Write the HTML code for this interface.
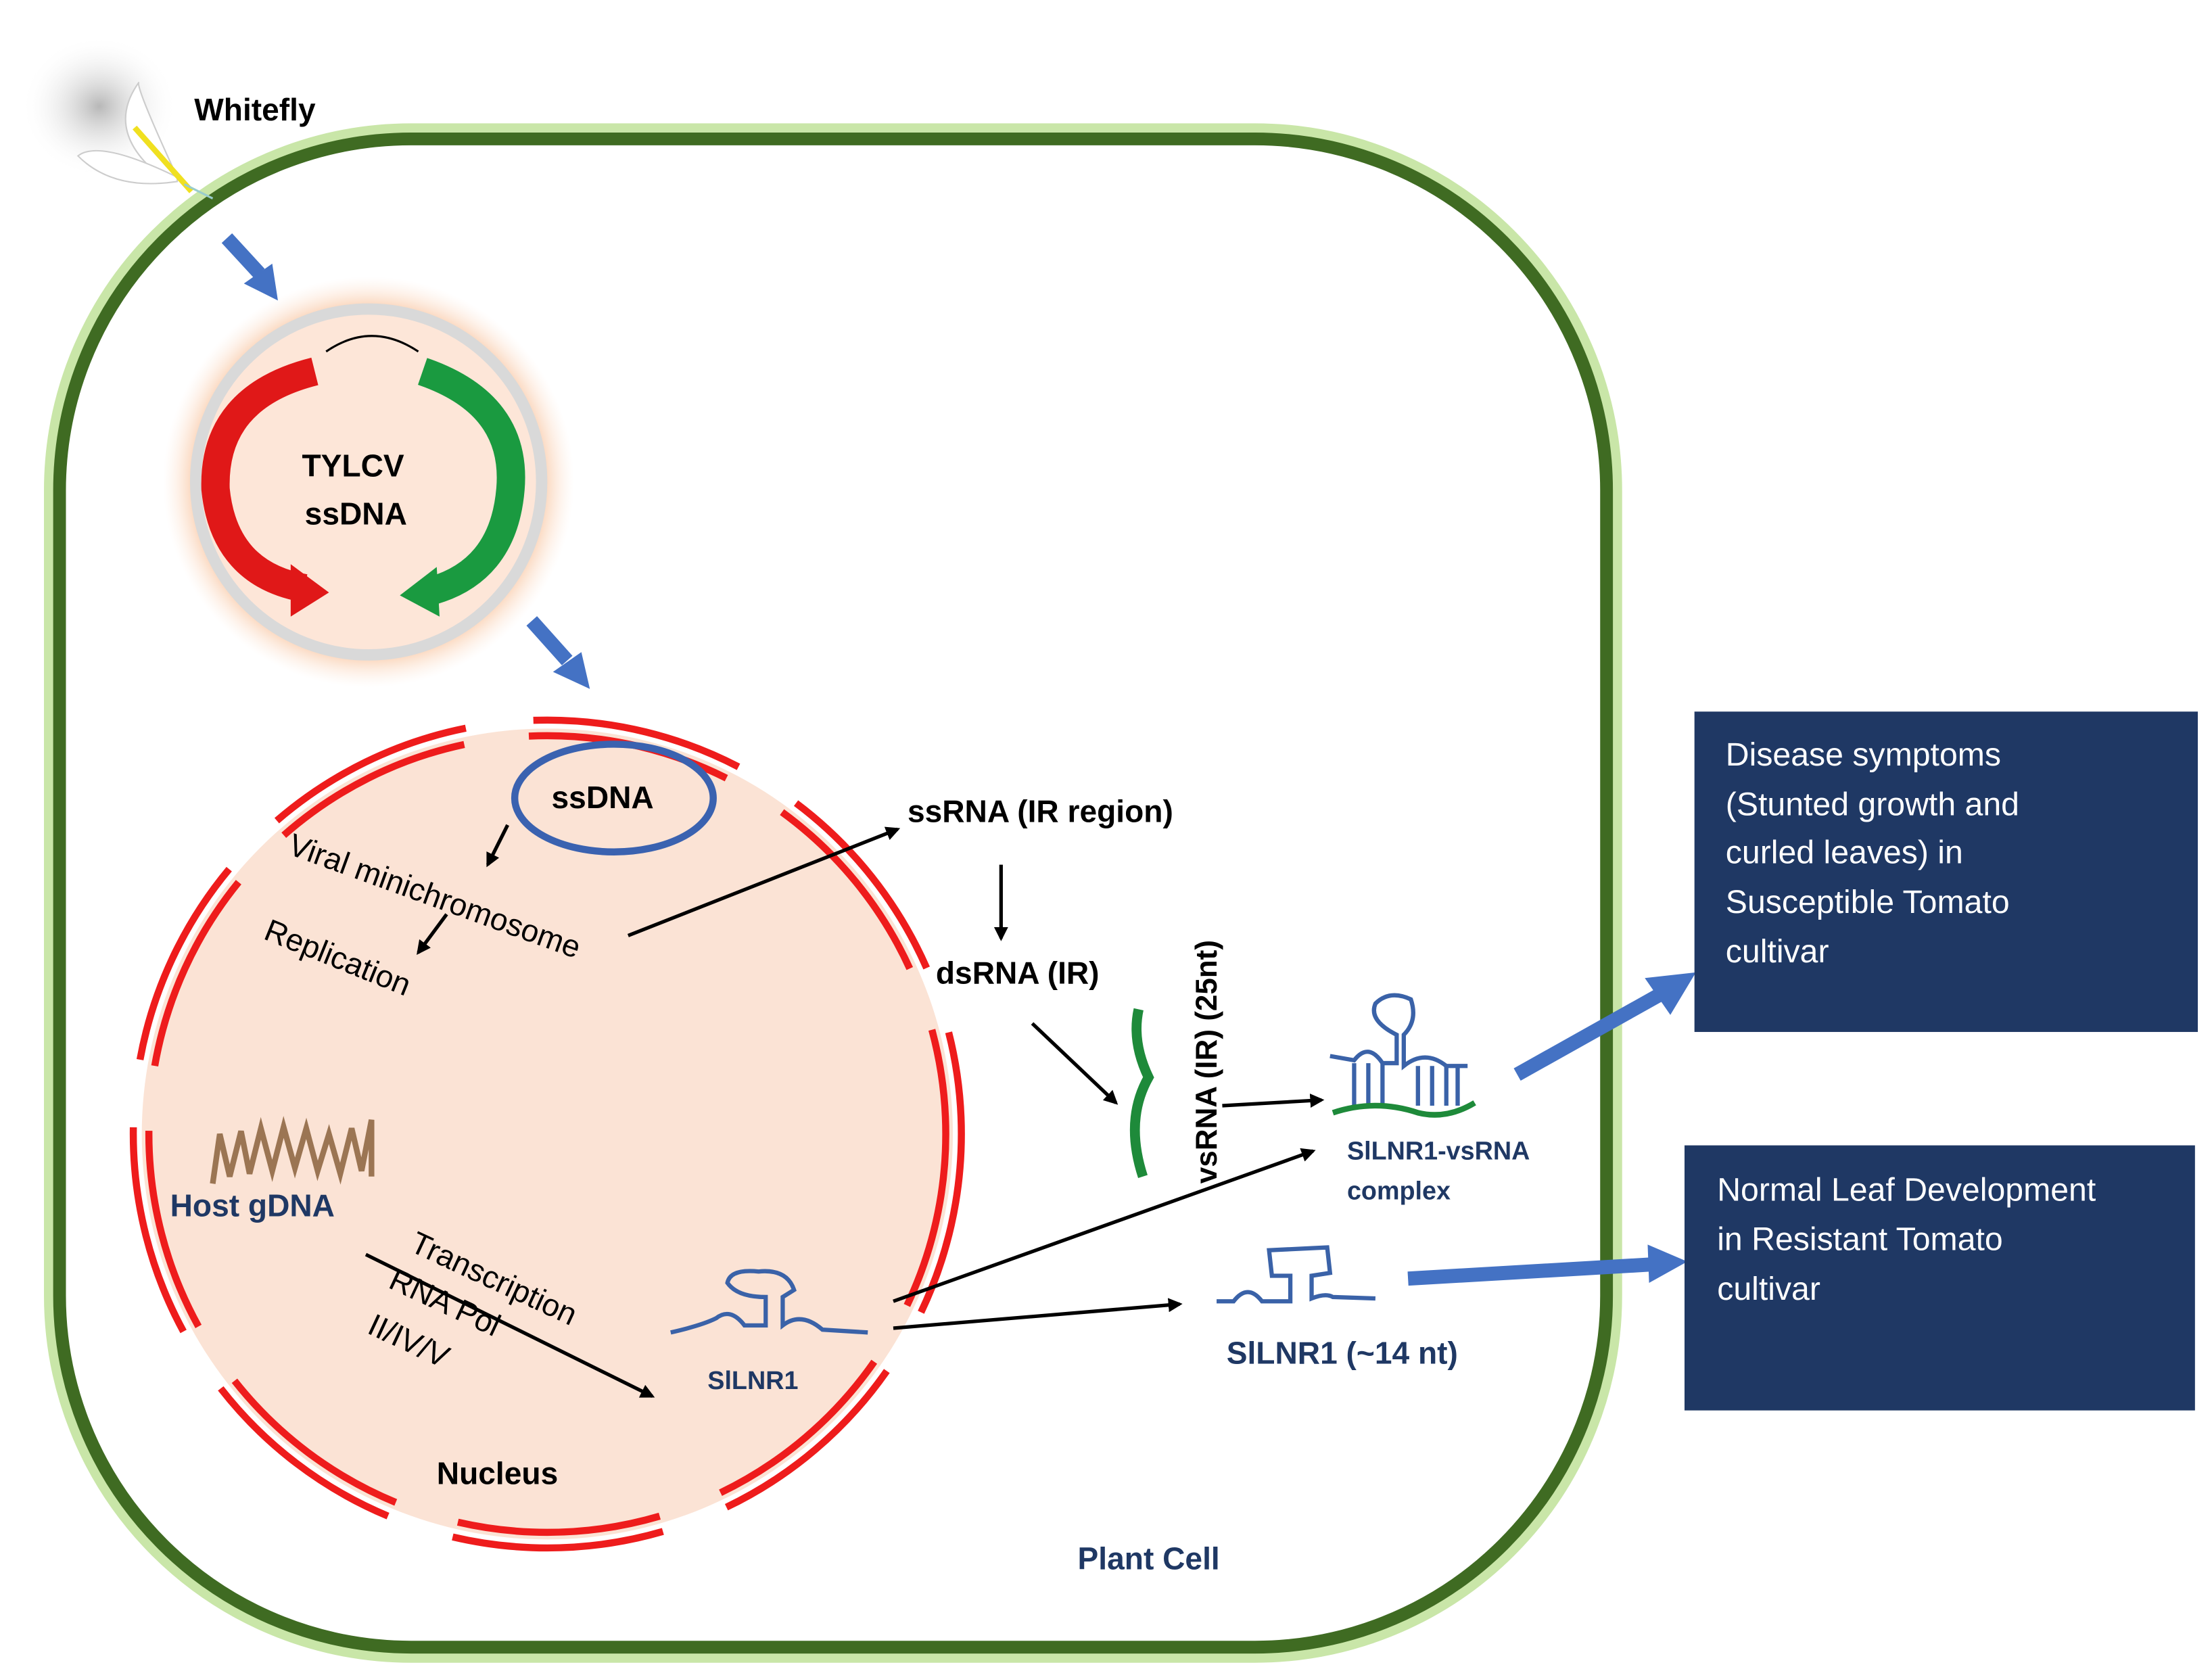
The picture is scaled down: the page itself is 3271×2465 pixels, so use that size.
<!DOCTYPE html>
<html><head><meta charset="utf-8"><style>
html,body{margin:0;padding:0;background:#fff;}
svg{display:block}
text{font-family:"Liberation Sans",sans-serif;}
</style></head><body>
<svg width="3271" height="2465" viewBox="0 0 1560 1176" preserveAspectRatio="none" xmlns="http://www.w3.org/2000/svg">
<defs>
<marker id="ah" markerWidth="10" markerHeight="10" refX="8" refY="5" orient="auto" markerUnits="userSpaceOnUse"><path d="M0,0 L10,5 L0,10 Z" fill="#000"/></marker>
<radialGradient id="glow" cx="50%" cy="50%" r="50%"><stop offset="80%" stop-color="#f7b98c"/><stop offset="100%" stop-color="#fde8da" stop-opacity="0"/></radialGradient>
<radialGradient id="shadow" cx="50%" cy="50%" r="50%"><stop offset="0%" stop-color="#999" stop-opacity="0.7"/><stop offset="100%" stop-color="#fff" stop-opacity="0"/></radialGradient>
</defs>
<!-- cell -->
<rect x="40" y="96" width="1095" height="1068" rx="250" fill="none" stroke="#c9e6a8" stroke-width="18"/>
<rect x="42" y="98" width="1091" height="1064" rx="248" fill="#fff" stroke="#3f6b22" stroke-width="9"/>
<!-- whitefly -->
<ellipse cx="70" cy="75" rx="55" ry="50" fill="url(#shadow)"/>
<path d="M125,125 Q95,60 98,58 Q75,90 108,120 Z" fill="#fff" stroke="#ccc"/>
<path d="M125,125 Q70,98 55,110 Q80,135 125,128 Z" fill="#fff" stroke="#ccc"/>
<line x1="95" y1="90" x2="135" y2="135" stroke="#f0e020" stroke-width="4"/>
<line x1="130" y1="130" x2="150" y2="140" stroke="#9cc" stroke-width="1.5"/>
<text x="137" y="85" font-size="22" font-weight="bold">Whitefly</text>
<!-- blue arrows -->
<g stroke="#4472c4" stroke-width="10" fill="#4472c4">
<line x1="160" y1="168" x2="183" y2="193"/>
<line x1="375" y1="438" x2="400" y2="466"/>
<line x1="1070" y1="758" x2="1170" y2="702"/>
<line x1="993" y1="902" x2="1165" y2="892"/>
</g>
<g fill="#4472c4">
<path d="M172,200 L196,212 L192,186 Z"/>
<path d="M390,474 L416,486 L410,460 Z"/>
<path d="M1160,690 L1196,686 L1178,716 Z"/>
<path d="M1162,878 L1190,890 L1163,905 Z"/>
</g>
<!-- TYLCV -->
<circle cx="260" cy="340" r="145" fill="url(#glow)"/>
<circle cx="260" cy="340" r="122" fill="#fde6d8" stroke="#d9d9d9" stroke-width="8"/>
<path d="M222,262 Q150,280 152,345 Q158,405 215,415" fill="none" stroke="#e01818" stroke-width="20"/>
<path d="M205,398 L232,418 L205,435 Z" fill="#e01818"/>
<path d="M298,262 Q365,285 360,345 Q355,405 300,418" fill="none" stroke="#1a9a40" stroke-width="20"/>
<path d="M308,400 L282,420 L310,435 Z" fill="#1a9a40"/>
<path d="M230,248 Q262,226 295,248" fill="none" stroke="#000" stroke-width="1.5"/>
<rect x="232" y="250" width="62" height="30" fill="#fde6d8"/>
<rect x="232" y="400" width="50" height="40" fill="#fde6d8"/>
<text x="249" y="336" font-size="22" font-weight="bold" text-anchor="middle">TYLCV</text>
<text x="251" y="370" font-size="22" font-weight="bold" text-anchor="middle">ssDNA</text>
<!-- nucleus -->
<circle cx="386" cy="800" r="286" fill="#fbe3d5"/>
<g fill="none" stroke="#ee1c1c" stroke-width="5">
<circle cx="386" cy="800" r="292" stroke-dasharray="150 48" stroke-dashoffset="20"/>
<circle cx="386" cy="800" r="281" stroke-dasharray="144 46" stroke-dashoffset="19"/>
</g>
<ellipse cx="433" cy="563" rx="70" ry="38" fill="none" stroke="#3a62b0" stroke-width="5"/>
<text x="425" y="570" font-size="22" font-weight="bold" text-anchor="middle">ssDNA</text>
<text transform="translate(202,602) rotate(20)" font-size="22">Viral minichromosome</text>
<text transform="translate(185,662) rotate(22)" font-size="22">Replication</text>
<g stroke="#000" stroke-width="2.5" fill="none" marker-end="url(#ah)">
<line x1="358" y1="582" x2="344" y2="610"/>
<line x1="315" y1="645" x2="295" y2="672"/>
<line x1="443" y1="660" x2="633" y2="585"/>
<line x1="706" y1="610" x2="706" y2="662"/>
<line x1="728" y1="722" x2="787" y2="778"/>
<line x1="862" y1="780" x2="932" y2="776"/>
<line x1="630" y1="918" x2="926" y2="812"/>
<line x1="630" y1="937" x2="832" y2="920"/>
<line x1="258" y1="885" x2="460" y2="985"/>
</g>
<!-- host gDNA -->
<path d="M150,835 L155,800 L162,830 L170,798 L176,828 L184,796 L192,826 L200,795 L208,824 L216,796 L224,826 L232,800 L240,828 L248,796 L255,826 L262,790 L262,830" fill="none" stroke="#9b7553" stroke-width="4"/>
<text x="120" y="858" font-size="22" font-weight="bold" fill="#1f3864">Host gDNA</text>
<text transform="translate(288,882) rotate(25)" font-size="22">Transcription</text>
<text transform="translate(273,908) rotate(25)" font-size="22">RNA Pol</text>
<text transform="translate(258,940) rotate(25)" font-size="22">II/IV/V</text>
<!-- SlLNR1 in nucleus -->
<g fill="none" stroke="#3a62a8" stroke-width="3">
<path d="M473,940 Q495,935 505,930 Q515,922 525,935 L540,935 L540,915 Q520,915 513,905 Q515,895 535,897 Q555,895 560,910 L552,915 L552,935 Q565,925 580,938 L612,940"/>
</g>
<text x="499" y="980" font-size="18" font-weight="bold" fill="#1f3864">SlLNR1</text>
<text x="308" y="1047" font-size="22" font-weight="bold">Nucleus</text>
<!-- right side texts -->
<text x="640" y="580" font-size="22" font-weight="bold">ssRNA (IR region)</text>
<text x="660" y="694" font-size="22" font-weight="bold">dsRNA (IR)</text>
<text transform="translate(858,835) rotate(-90)" font-size="21" font-weight="bold">vsRNA (IR) (25nt)</text>
<path d="M803,712 Q798,735 810,760 Q793,790 806,830" fill="none" stroke="#1e8a3a" stroke-width="7"/>
<!-- complex -->
<g fill="none" stroke="#3a62a8" stroke-width="3">
<path d="M938,745 L955,748 Q965,735 975,750 L985,750 L985,730 Q965,720 970,708 Q980,698 995,705 Q1000,720 990,730 L990,752 Q1005,740 1020,752 L1035,752"/>
<path d="M955,750 V780 M965,750 V780 M975,750 V780 M1000,752 V780 M1010,752 V780 M1020,752 V780 M1028,752 V780"/>
</g>
<path d="M940,785 Q970,775 1000,785 Q1020,790 1040,778" fill="none" stroke="#1e8a3a" stroke-width="4"/>
<text x="950" y="818" font-size="18" font-weight="bold" fill="#1f3864">SlLNR1-vsRNA</text>
<text x="950" y="846" font-size="18" font-weight="bold" fill="#1f3864">complex</text>
<g fill="none" stroke="#3a62a8" stroke-width="3">
<path d="M858,918 L870,918 Q880,905 890,918 L910,918 L910,900 L897,900 L895,882 L936,880 L938,898 L925,900 L925,916 Q935,912 940,915 L970,916"/>
</g>
<text x="865" y="962" font-size="22" font-weight="bold" fill="#1f3864">SlLNR1 (~14 nt)</text>
<text x="760" y="1107" font-size="22" font-weight="bold" fill="#1f3864">Plant Cell</text>
<!-- boxes -->
<rect x="1195" y="502" width="355" height="226" fill="#1f3864"/>
<g fill="#fff" font-size="23">
<text x="1217" y="540">Disease symptoms</text>
<text x="1217" y="575">(Stunted growth and</text>
<text x="1217" y="609">curled leaves) in</text>
<text x="1217" y="644">Susceptible Tomato</text>
<text x="1217" y="679">cultivar</text>
</g>
<rect x="1188" y="808" width="360" height="187" fill="#1f3864"/>
<g fill="#fff" font-size="23">
<text x="1211" y="847">Normal Leaf Development</text>
<text x="1211" y="882">in Resistant Tomato</text>
<text x="1211" y="917">cultivar</text>
</g>
</svg>
</body></html>
